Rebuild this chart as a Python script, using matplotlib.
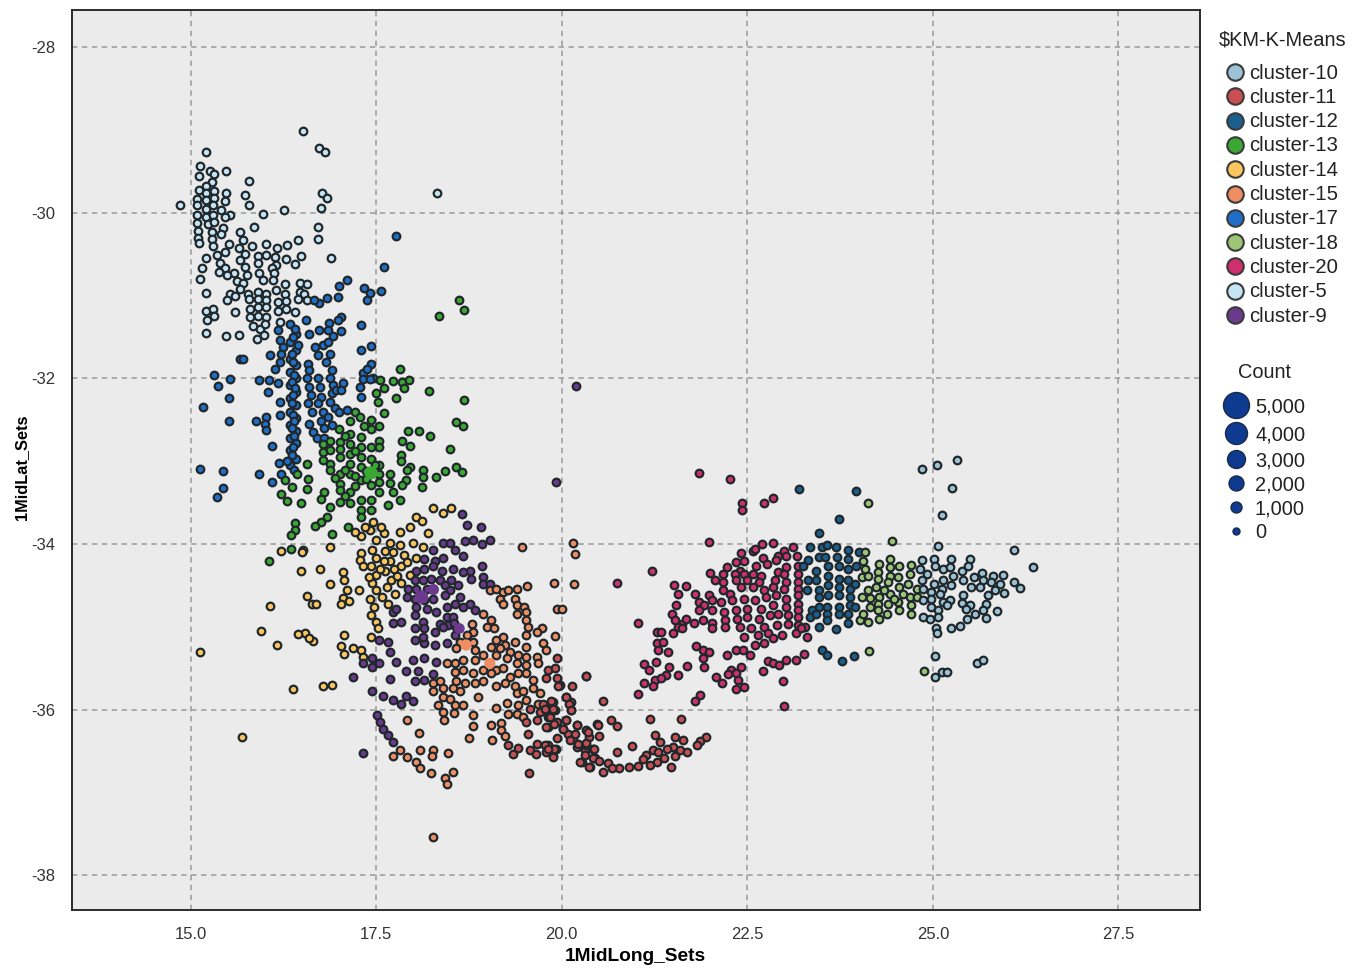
import matplotlib
matplotlib.use("Agg")
import numpy as np
import matplotlib.pyplot as plt

plt.rcParams['font.family'] = ['Liberation Sans', 'DejaVu Sans']

# values as (long, lat)
cluster_5 = [(16.51,-29.01),(16.73,-29.22),(16.81,-29.26),(15.20,-29.27),(15.12,-29.43),(15.11,-29.55),(15.26,-29.50),(15.31,-29.53),
 (15.48,-29.50),(15.29,-29.63),(15.79,-29.62),(15.21,-29.67),(15.11,-29.73),(15.21,-29.76),(15.31,-29.74),(15.47,-29.76),(15.73,-29.78),
 (16.77,-29.76),(16.84,-29.82),(18.32,-29.76),(14.85,-29.91),(15.09,-29.83),(15.21,-29.85),(15.31,-29.82),(15.46,-29.86),(15.08,-29.91),
 (15.21,-29.95),(15.30,-29.91),(15.41,-29.97),(15.79,-29.91),(16.76,-29.94),(16.26,-29.97),(15.97,-30.01),(15.53,-30.02),(15.46,-30.05),
 (15.08,-30.03),(15.21,-30.05),(15.30,-30.02),(15.08,-30.12),(15.23,-30.13),(15.32,-30.11),(15.43,-30.18),(15.85,-30.17),(16.71,-30.17),
 (15.10,-30.22),(15.28,-30.23),(15.41,-30.25),(15.67,-30.23),(15.10,-30.30),(15.28,-30.32),(16.71,-30.31),(16.45,-30.33),(15.70,-30.33),
 (15.11,-30.37),(15.30,-30.40),(15.51,-30.38),(15.82,-30.40),(16.02,-30.38),(16.30,-30.39),(15.65,-30.43),(16.16,-30.43),(15.46,-30.47),
 (15.35,-30.51),(15.21,-30.55),(15.73,-30.50),(15.91,-30.52),(16.02,-30.51),(16.13,-30.53),(16.28,-30.56),(16.49,-30.52),(16.89,-30.54),
 (16.41,-30.62),(15.66,-30.57),(15.91,-30.60),(16.15,-30.63),(15.39,-30.61),(15.73,-30.65),(15.15,-30.67),(16.09,-30.67),(15.46,-30.67),
 (15.38,-30.71),(15.58,-30.73),(15.49,-30.75),(15.76,-30.75),(15.92,-30.73),(16.12,-30.73),(15.13,-30.80),(15.97,-30.81),(16.11,-30.81),
 (15.62,-30.82),(15.71,-30.85),(16.27,-30.86),(16.47,-30.85),(16.57,-30.86),(16.15,-30.93),(15.66,-30.92),(15.20,-30.97),(15.53,-30.98),
 (15.60,-31.01),(15.49,-31.05),(15.77,-30.98),(15.91,-30.96),(16.02,-30.98),(16.27,-30.98),(16.47,-30.96),(16.53,-30.98),(15.79,-31.04),
 (15.91,-31.04),(16.02,-31.05),(16.18,-31.08),(16.29,-31.06),(16.45,-31.04),(16.57,-31.05),(15.21,-31.19),(15.30,-31.16),(15.31,-31.24),
 (15.22,-31.29),(15.60,-31.20),(15.80,-31.16),(15.91,-31.14),(16.02,-31.14),(15.80,-31.26),(15.91,-31.24),(16.02,-31.26),(16.18,-31.18),
 (16.29,-31.16),(16.40,-31.20),(15.21,-31.45),(15.48,-31.49),(15.65,-31.47),(15.84,-31.37),(15.93,-31.40),(16.00,-31.34),(16.20,-31.32),
 (15.89,-31.52),(15.99,-31.48)]

cluster_17 = [(17.76,-30.28),(17.61,-30.65),(17.10,-30.81),(17.00,-30.88),(17.34,-30.91),(17.41,-30.97),(17.38,-31.05),(17.56,-30.94),
 (16.99,-31.02),(16.84,-31.03),(16.73,-31.09),(16.66,-31.05),(17.03,-31.26),(16.99,-31.30),(16.86,-31.33),(17.30,-31.35),(17.02,-31.43),
 (16.92,-31.49),(16.73,-31.41),(16.60,-31.46),(17.43,-31.61),(17.29,-31.66),(17.43,-31.83),(17.32,-31.93),(17.45,-31.99),(15.66,-31.77),
 (15.70,-31.77),(15.16,-32.35),(15.52,-32.51),(15.13,-33.09),(15.44,-33.12),(15.44,-33.32),(15.35,-33.43),(15.32,-31.96),(15.37,-32.09),
 (15.53,-32.01),(15.51,-32.24),(15.88,-32.51),(16.02,-32.47),(16.00,-32.55),(16.02,-32.62),(15.92,-32.02),(16.06,-32.02),(16.04,-32.16),
 (16.20,-32.28),(16.20,-32.44),(16.10,-32.82),(16.19,-33.02),(15.92,-33.15),(16.09,-33.25),(16.22,-33.15),(16.18,-31.42),(16.20,-31.54),
 (16.07,-31.72),(16.20,-31.80),(16.13,-31.88),(16.18,-32.06),(16.24,-31.62),(16.22,-31.70),
 (16.34,-31.34),(16.42,-31.46),(16.34,-31.56),(16.42,-31.66),(16.34,-31.76),(16.42,-31.84),(16.34,-31.92),(16.42,-32.00),(16.34,-32.08),
 (16.42,-32.16),(16.34,-32.24),(16.42,-32.32),(16.34,-32.40),(16.42,-32.48),(16.34,-32.56),(16.42,-32.64),(16.34,-32.72),(16.42,-32.78),
 (16.34,-32.87),(16.42,-32.97),(16.34,-33.05),(16.40,-31.40),(16.38,-31.50),(16.45,-31.60),(16.37,-31.70),(16.38,-31.80),(16.39,-31.96),
 (16.36,-32.04),(16.40,-32.12),(16.38,-32.20),(16.36,-32.30),(16.38,-32.44),(16.39,-32.52),(16.37,-32.60),(16.39,-32.70),(16.38,-32.83),
 (16.36,-32.92),(16.39,-33.10),(16.30,-33.00),
 (16.58,-31.82),(16.60,-31.90),(16.57,-32.00),(16.60,-32.10),(16.62,-32.20),(16.58,-32.30),(16.63,-32.40),(16.60,-32.55),(16.65,-32.65),
 (16.70,-32.72),(16.68,-31.62),(16.72,-31.72),(16.78,-31.60),(16.72,-32.00),(16.74,-32.10),(16.76,-32.22),(16.72,-32.30),(16.78,-32.40),
 (16.75,-32.52),(16.80,-32.60),(16.85,-31.56),(16.88,-31.70),(16.82,-31.80),(16.90,-31.90),(16.88,-32.00),(16.92,-32.08),(16.90,-32.18),
 (16.88,-32.28),(16.95,-32.36),(16.85,-32.46),(16.90,-32.56),(16.80,-32.72),(16.96,-32.14),(17.05,-32.06),(17.02,-32.14),(17.10,-32.38),
 (17.00,-32.40),(17.32,-32.01),(17.28,-32.10),(17.42,-32.01),(17.30,-32.22),(17.38,-31.88),(16.85,-31.42),(16.55,-31.30)]

cluster_13 = [(18.61,-31.05),(18.68,-31.17),(18.35,-31.25),(17.82,-31.89),(17.73,-32.03),(17.85,-32.04),(17.94,-32.02),(17.87,-32.11),
 (18.21,-32.15),(18.68,-32.26),(17.77,-32.24),(17.55,-32.02),(17.60,-32.11),(17.50,-32.18),(17.52,-32.28),(17.60,-32.42),(18.57,-32.53),
 (18.67,-32.57),(17.93,-32.63),(18.07,-32.64),(18.23,-32.69),(17.85,-32.75),(17.95,-32.82),(18.50,-32.85),(17.84,-32.93),(17.83,-33.00),
 (17.95,-33.07),(17.92,-33.10),(18.57,-33.07),(18.43,-33.12),(18.65,-33.13),(18.31,-33.19),(18.13,-33.11),(18.13,-33.19),(18.12,-33.31),
 (17.68,-33.15),(17.68,-33.26),(17.90,-33.23),(17.85,-33.29),(17.73,-33.37),(17.82,-33.47),(17.66,-33.53),
 (16.78,-32.79),(16.78,-32.89),(16.78,-32.99),(16.87,-32.75),(16.87,-32.87),(16.87,-33.03),(16.87,-33.11),(17.01,-32.77),(17.01,-32.85),
 (17.01,-32.95),(17.01,-33.15),(17.01,-33.27),(17.01,-33.35),(17.01,-33.49),(17.14,-32.67),(17.14,-32.79),(17.14,-32.91),(17.14,-33.03),
 (17.14,-33.15),(17.14,-33.37),(17.14,-33.51),(17.30,-32.71),(17.30,-32.83),(17.30,-32.95),(17.30,-33.07),(17.30,-33.23),(17.30,-33.47),
 (17.30,-33.59),(17.30,-33.67),(17.43,-32.50),(17.43,-32.61),(17.43,-32.83),(17.43,-32.97),(17.43,-33.29),(17.43,-33.47),(17.43,-33.59),
 (17.54,-32.57),(17.54,-32.75),(17.54,-32.83),(17.54,-33.05),(17.54,-33.15),(17.54,-33.25),(17.54,-33.37),(16.95,-33.20),(17.08,-33.10),
 (17.22,-33.18),(17.36,-33.12),(17.48,-33.04),(17.36,-33.22),(17.22,-33.30),(17.08,-33.42),(17.22,-32.88),(17.08,-32.70),
 (17.22,-32.40),(17.28,-32.46),(17.14,-32.52),(17.34,-32.57),(17.00,-32.61),(16.56,-33.03),(16.43,-33.15),(16.27,-33.23),(16.36,-33.31),
 (16.58,-33.21),(16.56,-33.33),(16.22,-33.40),(16.30,-33.48),(16.49,-33.50),(16.79,-33.37),(16.76,-33.45),(16.87,-33.55),(16.40,-33.74),
 (16.40,-33.83),(16.35,-33.89),(16.83,-33.67),(16.76,-33.73),(16.68,-33.78),(16.90,-33.88),(17.12,-33.79),(16.35,-34.06),(16.06,-34.20)]

cluster_14 = [(18.27,-33.57),(18.40,-33.62),(18.51,-33.57),(18.04,-33.67),(18.12,-33.72),(17.95,-33.80),(17.82,-33.86),(18.20,-33.87),
 (16.87,-34.04),(16.51,-34.07),(16.49,-34.32),(16.74,-34.30),(16.87,-34.48),(16.57,-34.63),(16.63,-34.72),(16.69,-34.73),(17.05,-34.34),
 (17.07,-34.43),(17.11,-34.56),(17.27,-34.56),(17.05,-34.65),(17.03,-34.73),(17.13,-34.69),(16.54,-35.07),(16.65,-35.17),(17.07,-35.10),
 (17.03,-35.23),(17.07,-35.33),(17.19,-35.26),(17.29,-35.28),(17.32,-35.36),(16.90,-35.70),(15.95,-35.05),(15.12,-35.30),(16.16,-35.22),
 (16.07,-34.75),(16.38,-35.75),(16.78,-35.72),(15.69,-36.33),(16.44,-35.09),(16.60,-35.13),(16.22,-34.09),(16.50,-34.10),
 (17.46,-33.73),(17.42,-33.83),(17.50,-33.95),(17.44,-34.07),(17.50,-34.17),(17.43,-34.27),(17.50,-34.37),(17.44,-34.47),(17.49,-34.56),
 (17.42,-34.66),(17.47,-34.76),(17.43,-34.86),(17.50,-34.94),(17.52,-35.02),(17.43,-35.12),(17.30,-34.11),(17.28,-34.19),(17.32,-34.27),
 (17.60,-33.87),(17.68,-33.99),(17.62,-34.09),(17.68,-34.21),(17.62,-34.33),(17.70,-34.43),(17.82,-34.01),(17.88,-34.13),(17.84,-34.27),
 (17.95,-34.37),(17.84,-34.47),(17.99,-33.99),(18.13,-34.03),(18.04,-34.17),(17.58,-34.64),(17.66,-34.72),(17.75,-34.60),(17.60,-34.20),
 (17.55,-34.30),(17.74,-34.30),(17.64,-34.52),(17.72,-34.10),(17.92,-34.22),(17.40,-34.40),(17.57,-33.80),(17.78,-34.38),(17.30,-33.90),
 (17.22,-33.85),(17.35,-33.80)]

cluster_9 = [(18.65,-33.64),(18.72,-33.77),(18.91,-33.80),(19.03,-33.95),(18.92,-34.00),(18.81,-33.95),(18.70,-33.96),(18.40,-33.99),
 (18.50,-33.99),(18.27,-34.07),(18.56,-34.07),(18.67,-34.14),(18.15,-34.18),(18.29,-34.20),(18.40,-34.17),(18.04,-34.32),(18.15,-34.30),
 (18.27,-34.26),(18.38,-34.32),(18.02,-34.44),(18.13,-34.44),(18.24,-34.42),(18.36,-34.44),(17.93,-34.54),(18.04,-34.54),(18.18,-34.54),
 (18.42,-34.50),(17.91,-34.64),(18.02,-34.66),(18.15,-34.68),(18.27,-34.66),(18.04,-34.76),(18.18,-34.78),(17.73,-34.82),(17.77,-34.78),
 (18.02,-34.86),(17.73,-34.95),(17.84,-34.94),(18.13,-34.94),(18.02,-35.02),(18.15,-35.02),(18.02,-35.16),(18.15,-35.20),(18.29,-35.06),
 (18.36,-34.96),(18.45,-34.88),(18.45,-34.76),(18.51,-34.44),(18.60,-34.50),(18.49,-34.56),(18.63,-34.64),(18.56,-34.72),(18.67,-34.76),
 (18.76,-34.72),(18.83,-34.80),(18.54,-34.88),(18.47,-34.98),(18.58,-35.00),(18.56,-35.10),(18.45,-35.20),(18.29,-35.22),(18.13,-35.12),
 (18.54,-34.30),(18.76,-34.32),(18.92,-34.26),(18.78,-34.42),(18.94,-34.40),(18.94,-34.48),(19.03,-34.48),(18.67,-34.34),(18.40,-35.00),
 (18.55,-34.95),(18.31,-34.82),(18.42,-34.62),(17.51,-36.07),(17.55,-36.15),(17.59,-36.23),(17.66,-36.31),(17.73,-36.39),(17.32,-36.52),
 (17.19,-35.60),(17.44,-35.78),(17.59,-35.84),(17.72,-35.88),(17.84,-35.93),(17.90,-35.84),(18.00,-35.89),(17.68,-35.63),(17.90,-35.53),
 (17.44,-35.38),(17.32,-35.44),(17.44,-35.48),(17.54,-35.44),(17.54,-35.16),(17.66,-35.18),(17.68,-35.30),(17.77,-35.43),(18.15,-35.38),
 (17.99,-35.40),(18.06,-35.53),(18.02,-35.66),(18.15,-35.64),(18.27,-35.57),(18.31,-35.42),(19.92,-33.25),(20.19,-32.09)]

cluster_15 = [(19.03,-34.56),(19.12,-34.54),(19.21,-34.58),(19.17,-34.66),(19.28,-34.56),(19.40,-34.54),(19.53,-34.51),(19.21,-34.72),
 (19.37,-34.66),(19.39,-34.74),(19.49,-34.76),(19.52,-34.82),(19.40,-34.84),(19.93,-34.78),(20.17,-34.48),(19.52,-34.92),(19.55,-35.00),
 (19.52,-35.10),(19.73,-35.02),(19.67,-35.06),(19.91,-35.11),(19.75,-35.20),(19.79,-35.28),(18.94,-34.84),(19.05,-34.92),(18.99,-35.00),
 (19.08,-35.02),(18.79,-34.97),(18.81,-35.06),(18.72,-35.10),(19.21,-35.12),(19.12,-35.16),(19.37,-35.18),(19.23,-35.22),(19.52,-35.24),
 (19.17,-35.26),(19.30,-35.30),(19.41,-35.34),(19.52,-35.36),(19.66,-35.36),(18.63,-35.18),(18.58,-35.26),(18.81,-35.18),(18.83,-35.28),
 (18.94,-35.34),(19.05,-35.24),(19.12,-35.34),(19.26,-35.38),(19.39,-35.44),(19.52,-35.46),(19.68,-35.44),(18.56,-35.44),(18.67,-35.40),
 (18.83,-35.40),(19.12,-35.52),(19.21,-35.50),(19.52,-35.56),(18.45,-35.44),(18.56,-35.54),(18.67,-35.52),(18.81,-35.56),(18.94,-35.52),
 (19.05,-35.56),(19.30,-35.60),(19.41,-35.56),(19.61,-35.64),(18.58,-35.66),(18.69,-35.68),(18.83,-35.68),(18.94,-35.66),(19.12,-35.72),
 (19.23,-35.68),(19.37,-35.72),(18.27,-35.68),(18.36,-35.66),(18.40,-35.74),(18.27,-35.77),(18.54,-35.74),(18.63,-35.78),(18.87,-35.85),
 (18.40,-35.85),(18.49,-35.87),(19.39,-35.80),(19.48,-35.78),(19.61,-35.74),(19.70,-35.80),(19.52,-35.88),(19.41,-35.95),(19.28,-36.05),
 (19.39,-36.05),(19.48,-36.09),(19.68,-35.93),(17.91,-36.13),(18.07,-36.28),(18.09,-36.49),(18.27,-36.49),(18.25,-36.56),(18.46,-36.52),
 (17.73,-36.56),(17.91,-36.57),(17.82,-36.49),(18.04,-36.63),(18.09,-36.71),(18.24,-36.76),(18.53,-36.75),(18.42,-36.82),(18.45,-36.90),
 (18.33,-35.95),(18.40,-36.03),(18.41,-36.12),(18.56,-35.95),(18.67,-35.95),(18.55,-36.04),(18.81,-36.07),(18.80,-36.20),(18.75,-36.34),
 (19.04,-36.19),(19.18,-36.16),(19.18,-36.25),(19.24,-36.32),(19.06,-36.37),(19.11,-35.98),(19.26,-35.92),(18.26,-37.54),(19.46,-34.03),
 (20.15,-33.99),(20.18,-34.12),(19.90,-34.47),(20.00,-34.78),(20.33,-35.59)]

cluster_11 = [(19.82,-35.52),(19.93,-35.38),(19.91,-35.50),(19.79,-35.62),(19.93,-35.62),(19.97,-35.70),(20.14,-35.72),(20.32,-35.59),
 (20.06,-35.85),(20.13,-35.91),(20.13,-36.01),(19.75,-35.93),(19.88,-35.91),(19.82,-35.99),(19.91,-36.01),(19.70,-36.03),(19.57,-35.99),
 (19.82,-36.09),(19.93,-36.15),(19.66,-36.13),(19.52,-36.15),(20.06,-36.13),(19.82,-36.21),(20.02,-36.23),(20.20,-36.19),(19.55,-36.29),
 (19.93,-36.34),(20.09,-36.29),(20.15,-36.35),(20.33,-36.25),(20.47,-36.17),(20.36,-36.33),(20.20,-36.45),(20.31,-36.49),(20.42,-36.47),
 (20.27,-36.63),(20.38,-36.69),(20.45,-36.59),(19.28,-36.43),(19.34,-36.53),(19.41,-36.46),(19.57,-36.49),(19.67,-36.41),(19.65,-36.53),
 (19.82,-36.43),(19.79,-36.51),(19.92,-36.48),(19.88,-36.56),(19.56,-36.77),(20.56,-35.89),(21.19,-36.11),(21.60,-36.11),(21.25,-36.31),
 (21.52,-36.33),(21.64,-36.37),(21.95,-36.33),(21.86,-36.38),(21.82,-36.43),(20.94,-36.44),(20.66,-36.13),(20.74,-36.20),(20.49,-36.18),
 (20.50,-36.32),(20.74,-36.51),(21.14,-36.55),(21.23,-36.49),(21.32,-36.39),(21.30,-36.51),(21.50,-36.45),(21.52,-36.56),(21.59,-36.49),
 (21.69,-36.51),(21.28,-36.63),(21.19,-36.67),(21.47,-36.69),(21.03,-36.68),(20.91,-36.69),(20.77,-36.71),(20.62,-36.65),(20.56,-36.75),
 (20.37,-36.69),(20.25,-36.63),(20.42,-36.59),(20.31,-36.55),(20.44,-36.47),(20.33,-36.43),(20.35,-36.27),(20.20,-36.19),(20.18,-36.29),
 (20.06,-36.13),(20.11,-36.37),(20.22,-36.41),(20.02,-36.23),(19.90,-36.17),(19.79,-36.21),(19.84,-36.09),(19.88,-35.99),(19.77,-35.99),
 (19.86,-35.89),(20.06,-35.85),(20.10,-35.93),(20.13,-36.01),(19.95,-35.72),(19.77,-36.43),(19.88,-36.57),(19.90,-36.48),(19.81,-36.48),
 (20.33,-36.40),(20.50,-36.62),(20.67,-36.70),(21.10,-36.60),(21.38,-36.58),(21.42,-36.48)]

cluster_20 = [(21.85,-33.14),(22.26,-33.22),(22.43,-33.50),(22.43,-33.59),(22.73,-33.51),(22.84,-33.44),(21.99,-33.98),(21.21,-34.33),
 (20.74,-34.47),(21.51,-34.49),(21.68,-34.51),(22.57,-34.08),(22.70,-34.00),(22.85,-33.99),(23.11,-34.03),(22.42,-34.11),(22.60,-34.06),
 (23.00,-34.08),(23.17,-34.14),(22.91,-34.14),(23.02,-34.15),(22.35,-34.22),(22.71,-34.17),(22.46,-34.20),(22.88,-34.19),(22.76,-34.24),
 (22.22,-34.28),(22.40,-34.32),(23.02,-34.28),(22.62,-34.26),(23.18,-34.26),(22.00,-34.35),(22.17,-34.36),(22.33,-34.36),(22.46,-34.36),
 (22.57,-34.36),(22.69,-34.38),(22.91,-34.34),(23.00,-34.36),(23.18,-34.36),(22.06,-34.43),(22.17,-34.46),(22.35,-34.44),(22.50,-34.44),
 (22.66,-34.46),(22.87,-34.44),(23.02,-34.46),(23.18,-34.46),(21.80,-34.60),(21.56,-34.60),(21.98,-34.62),(22.17,-34.56),(22.26,-34.60),
 (22.42,-34.52),(22.57,-34.52),(22.72,-34.56),(22.85,-34.52),(23.00,-34.54),(23.18,-34.54),(21.54,-34.74),(21.85,-34.70),(21.92,-34.74),
 (22.02,-34.68),(22.15,-34.70),(22.30,-34.68),(22.46,-34.66),(22.60,-34.68),(22.75,-34.64),(22.88,-34.62),(23.02,-34.66),(23.18,-34.62),
 (21.48,-34.84),(21.52,-34.92),(21.62,-34.96),(21.85,-34.80),(22.02,-34.80),(22.18,-34.82),(22.35,-34.80),(22.50,-34.78),(22.68,-34.78),
 (22.85,-34.74),(23.02,-34.76),(23.18,-34.72),(21.68,-34.90),(21.78,-34.95),(21.90,-34.92),(22.03,-34.95),(22.20,-34.92),(22.36,-34.90),
 (22.50,-34.88),(22.66,-34.90),(22.80,-34.86),(22.92,-34.84),(23.05,-34.86),(23.18,-34.80),(23.18,-34.88),(21.03,-34.95),(21.28,-35.06),
 (21.34,-35.06),(21.50,-35.08),(21.56,-35.00),(21.62,-35.02),(22.02,-35.02),(22.20,-35.00),(22.40,-35.00),(22.55,-35.02),(22.72,-35.00),
 (22.90,-34.98),(23.05,-34.96),(23.18,-34.98),(23.28,-35.00),(22.46,-35.12),(22.65,-35.10),(22.78,-35.08),(22.97,-35.10),(23.15,-35.08),
 (23.30,-35.12),(23.22,-35.02),(22.60,-35.22),(22.72,-35.20),(22.85,-35.14),(21.28,-35.20),(21.37,-35.18),(21.43,-35.30),(21.29,-35.28),
 (21.11,-35.45),(21.27,-35.42),(21.18,-35.52),(21.45,-35.48),(21.41,-35.58),(21.56,-35.58),(21.25,-35.64),(21.34,-35.62),(21.11,-35.68),
 (21.23,-35.72),(21.03,-35.81),(21.69,-35.47),(21.86,-35.82),(21.79,-35.89),(21.81,-35.23),(21.90,-35.28),(21.99,-35.30),(21.90,-35.38),
 (21.92,-35.48),(22.23,-35.34),(22.35,-35.28),(22.44,-35.28),(22.53,-35.34),(22.28,-35.52),(22.35,-35.56),(22.42,-35.48),(22.08,-35.61),
 (22.16,-35.68),(22.24,-35.57),(22.37,-35.64),(22.35,-35.75),(22.46,-35.73),(22.98,-35.65),(23.00,-35.96),(22.71,-35.53),(22.78,-35.41),
 (22.84,-35.44),(22.93,-35.46),(23.02,-35.40),(23.16,-35.40),(23.27,-35.33)]

cluster_12 = [(23.20,-33.34),(23.97,-33.36),(23.73,-33.70),(23.47,-33.87),(23.50,-35.28),(23.57,-35.34),(23.78,-35.41),(23.94,-35.35),
 (23.34,-34.04),(23.50,-34.03),(23.57,-34.01),(23.69,-34.04),(23.86,-34.07),(24.00,-34.10),(23.32,-34.19),(23.46,-34.16),(23.55,-34.16),
 (23.71,-34.16),(23.86,-34.18),(23.25,-34.27),(23.43,-34.32),(23.59,-34.27),(23.73,-34.27),(23.86,-34.30),(23.97,-34.26),(23.32,-34.44),
 (23.43,-34.44),(23.59,-34.38),(23.73,-34.42),(23.86,-34.44),(23.30,-34.56),(23.46,-34.56),(23.59,-34.50),(23.73,-34.52),(23.88,-34.54),
 (23.95,-34.48),(23.46,-34.64),(23.59,-34.62),(23.73,-34.62),(23.88,-34.64),(23.37,-34.80),(23.46,-34.76),(23.57,-34.76),(23.73,-34.76),
 (23.88,-34.74),(23.34,-34.88),(23.43,-34.84),(23.57,-34.84),(23.73,-34.84),(23.86,-34.84),(23.95,-34.76),(23.47,-35.00),(23.69,-35.03),
 (23.57,-34.92),(23.86,-34.95)]

cluster_18 = [(24.12,-33.51),(24.14,-35.29),(24.88,-35.53),(24.45,-33.96),(24.09,-34.10),(24.06,-34.20),(24.09,-34.30),(24.04,-34.40),
 (24.13,-34.38),(24.13,-34.56),(24.04,-34.64),(24.15,-34.76),(24.02,-34.92),(24.13,-34.94),(24.06,-34.84),(24.28,-34.24),(24.26,-34.34),
 (24.26,-34.42),(24.24,-34.52),(24.28,-34.64),(24.26,-34.72),(24.28,-34.90),(24.26,-34.80),(24.42,-34.18),(24.42,-34.28),(24.42,-34.38),
 (24.40,-34.46),(24.42,-34.60),(24.40,-34.72),(24.38,-34.84),(24.55,-34.26),(24.53,-34.40),(24.55,-34.52),(24.53,-34.70),(24.55,-34.80),
 (24.71,-34.25),(24.69,-34.36),(24.67,-34.48),(24.69,-34.64),(24.78,-34.54),(24.78,-34.64),(24.71,-34.74),(24.71,-34.84),(24.60,-34.60),
 (24.48,-34.66),(24.15,-34.65),(24.34,-34.56)]

cluster_10 = [(24.86,-33.09),(25.05,-33.04),(25.33,-32.99),(25.26,-33.32),(25.12,-33.65),(25.07,-34.02),(26.10,-34.07),(26.35,-34.28),
 (26.09,-34.46),(26.17,-34.53),(25.96,-34.59),(25.86,-34.81),(25.03,-35.35),(25.03,-35.60),(25.13,-35.54),(25.19,-35.55),(25.60,-35.44),
 (25.68,-35.40),(24.85,-34.19),(25.02,-34.18),(25.24,-34.18),(25.50,-34.18),(24.83,-34.30),(25.03,-34.27),(25.14,-34.30),(25.23,-34.28),
 (25.39,-34.32),(25.48,-34.27),(24.92,-34.36),(25.66,-34.35),(25.81,-34.38),(25.95,-34.37),(24.85,-34.44),(25.01,-34.48),(25.14,-34.44),
 (25.27,-34.39),(25.40,-34.44),(25.55,-34.40),(25.68,-34.44),(25.79,-34.46),(25.90,-34.48),(24.87,-34.54),(24.98,-34.58),(25.12,-34.54),
 (25.25,-34.50),(25.52,-34.52),(25.64,-34.52),(25.84,-34.55),(25.10,-34.60),(25.41,-34.61),(25.75,-34.61),(24.87,-34.68),(24.98,-34.66),
 (25.14,-34.70),(25.23,-34.67),(25.39,-34.71),(25.72,-34.72),(24.98,-34.76),(25.19,-34.74),(25.50,-34.74),(25.45,-34.78),(25.68,-34.80),
 (24.87,-34.88),(24.96,-34.90),(25.07,-34.80),(25.07,-34.88),(25.57,-34.84),(25.46,-34.91),(25.72,-34.89),(25.37,-34.99),(25.24,-35.02),
 (25.04,-35.02),(25.05,-35.07)]

# the few larger points, long / lat / count / colour name
big_long = [17.43, 18.11, 18.27, 18.71, 19.03, 18.62]
big_lat = [-33.14, -34.64, -34.55, -35.22, -35.44, -35.02]
big_count = [1300, 1300, 800, 800, 800, 700]
big_cluster = ['cluster-13', 'cluster-9', 'cluster-9', 'cluster-15', 'cluster-15', 'cluster-9']

cluster_points = {'cluster-5': cluster_5, 'cluster-17': cluster_17, 'cluster-13': cluster_13, 'cluster-14': cluster_14,
                  'cluster-9': cluster_9, 'cluster-15': cluster_15, 'cluster-11': cluster_11, 'cluster-20': cluster_20,
                  'cluster-12': cluster_12, 'cluster-18': cluster_18, 'cluster-10': cluster_10}

legend_names = ['cluster-10', 'cluster-11', 'cluster-12', 'cluster-13', 'cluster-14', 'cluster-15',
                'cluster-17', 'cluster-18', 'cluster-20', 'cluster-5', 'cluster-9']
legend_colors = ['#9cc2d5', '#c94f53', '#1a5f8e', '#3aa832', '#fbc65e', '#ef8e62',
                 '#1f6fc8', '#9cc576', '#cf2f6c', '#c6e4f4', '#6b3a8e']
colors = dict(zip(legend_names, legend_colors))

count_labels = ['5,000', '4,000', '3,000', '2,000', '1,000', '0']
count_values = [5000, 4000, 3000, 2000, 1000, 0]
count_diam_px = [26, 22, 18, 15, 11, 7]

xticks = [15.0, 17.5, 20.0, 22.5, 25.0, 27.5]
yticks = [-28, -30, -32, -34, -36, -38]

W, H = 1367, 969
fig = plt.figure(figsize=(W / 100, H / 100), dpi=100)
ax = fig.add_axes([72 / W, 1 - 910 / H, (1200 - 72) / W, (910 - 10) / H])
ax.set_facecolor('#ebebeb')
ax.set_xlim(13.4, 28.6)
ax.set_ylim(-38.42, -27.55)
ax.set_xticks(xticks)
ax.set_xticklabels([f'{t:.1f}' for t in xticks])
ax.set_yticks(yticks)
ax.set_yticklabels([str(t) for t in yticks])
ax.grid(True, color='#999999', linestyle=(0, (3.5, 3)), linewidth=1.1)
ax.set_axisbelow(True)
ax.tick_params(length=0, labelsize=12, colors='#333333', pad=12)
for s in ax.spines.values():
    s.set_color('#2b2b2b')
    s.set_linewidth(1.4)
ax.set_xlabel('1MidLong_Sets', fontsize=13.8, fontweight='bold')
ax.set_ylabel('1MidLat_Sets', fontsize=11.8, fontweight='bold')
ax.xaxis.set_label_coords(0.4995, -0.0425)
ax.yaxis.set_label_coords(-0.0385, 0.492)


# marker area from the count, same scale as the size legend
def size_for(count):
    d = np.interp(count, count_values[::-1], count_diam_px[::-1]) * 0.72
    return d ** 2


for name, pts in cluster_points.items():
    pts = np.array(pts)
    ax.scatter(pts[:, 0], pts[:, 1], s=30, color=colors[name], edgecolors='#20282c', linewidths=1.6, zorder=3)
for x, y, c, name in zip(big_long, big_lat, big_count, big_cluster):
    ax.scatter([x], [y], s=size_for(c) * 1.2, color=colors[name], edgecolors='none', zorder=4)

# legends, drawn in pixel positions on an overlay
leg = fig.add_axes([0, 0, 1, 1])
leg.set_xlim(0, W)
leg.set_ylim(H, 0)
leg.axis('off')
leg.patch.set_alpha(0)
leg.text(1219, 40, '$KM-K-Means', fontsize=14.4, va='center', color='#222222', parse_math=False)
for i, (name, col) in enumerate(zip(legend_names, legend_colors)):
    y = 72 + i * 24.3
    leg.scatter([1235], [y], s=(16.5 * 0.72) ** 2, color=col, edgecolors='#3a3a3a', linewidths=1.5)
    leg.text(1249, y + 1, name, fontsize=14.6, va='center', color='#222222')
leg.text(1238, 372, 'Count', fontsize=14.4, va='center', color='#222222')
count_y = [405, 433, 459, 483, 507, 531]
for lab, d, y in zip(count_labels, count_diam_px, count_y):
    leg.scatter([1236], [y], s=(d * 0.72) ** 2, color='#0e3a8f', edgecolors='#1a2a4a', linewidths=1.0)
    leg.text(1255, y + 2, lab, fontsize=14.4, va='center', color='#222222')

fig.savefig('out.png', dpi=100)
